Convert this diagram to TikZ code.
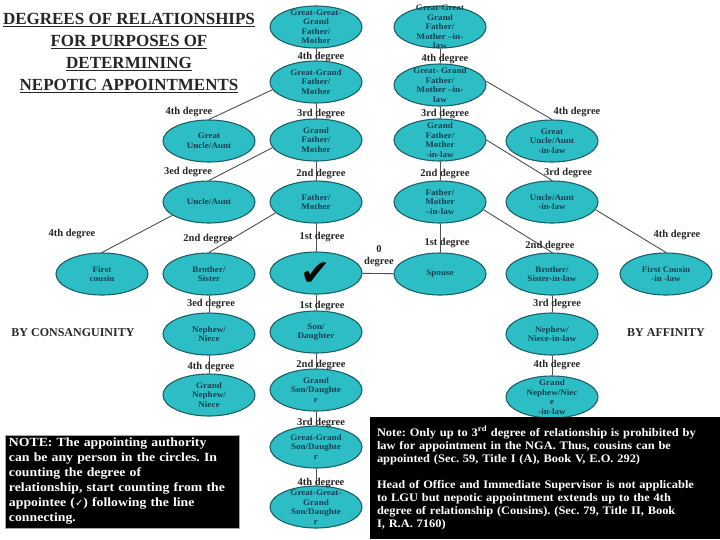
\documentclass[tikz,border=0pt]{standalone}
\usepackage{fontspec}
\setmainfont{Liberation Serif}
\newfontfamily\symfont{DejaVu Sans}
\newfontfamily\wideA[FakeStretch=1.1]{Liberation Serif}
\newfontfamily\wideB[FakeStretch=1.08]{Liberation Serif}
\newfontfamily\wideC[FakeStretch=1.08]{Liberation Serif}
\usetikzlibrary{shapes.geometric}
\definecolor{tealfill}{RGB}{44,190,196}
\definecolor{tealedge}{RGB}{28,96,104}
\definecolor{tealtext}{RGB}{22,64,84}
\definecolor{linegray}{RGB}{80,80,80}
\definecolor{labelgray}{RGB}{40,40,40}
\newcommand{\ptxt}[1]{\makebox[0pt][c]{\raisebox{-2.5pt}{\parbox[c]{90pt}{\centering\wideC\fontsize{8.4}{9.5}\selectfont\bfseries #1}}}}
\frenchspacing
\begin{document}
\begin{tikzpicture}[x=1pt,y=-1pt,
  pers/.style={ellipse, draw=tealedge, line width=1.1pt, fill=tealfill,
    minimum width=92pt, minimum height=42pt, inner sep=0pt,
    text height=0pt, text depth=0pt, text=tealtext},
  deg/.style={font=\fontsize{10.5}{12}\selectfont\bfseries, text=labelgray, inner sep=0pt},
  conn/.style={draw=linegray, line width=0.9pt},
  side/.style={font=\fontsize{12}{14}\selectfont\bfseries, text=labelgray, inner sep=0pt},
  notebox/.style={fill=black, draw=gray!70, line width=0.8pt, text=white, align=left, inner sep=0pt}]
\fill[white] (0,0) rectangle (720,539);
\useasboundingbox (0,0) rectangle (720,539);

% title
\node[font=\fontsize{17}{22}\selectfont\bfseries, align=center, text=black!85, inner sep=0pt] (title) at (129,53)
  {\underline{DEGREES OF RELATIONSHIPS}\\\underline{FOR PURPOSES OF}\\\underline{DETERMINING}\\\underline{NEPOTIC APPOINTMENTS}};

% centre column
\node[pers] (GGGF) at (316,27) {\ptxt{Great-Great-\\Grand\\Father/\\Mother}};
\node[pers] (GGF) at (316,82) {\ptxt{Great-Grand\\Father/\\Mother}};
\node[pers] (GF) at (316,140) {\ptxt{Grand\\Father/\\Mother}};
\node[pers] (FM) at (316,202) {\ptxt{Father/\\Mother}};
\node[pers] (ME) at (316,273) {\makebox[0pt][c]{\raisebox{-12pt}{\symfont\fontsize{36}{36}\selectfont\textcolor{black}{✔}}}};
\node[pers] (SON) at (316,332) {\ptxt{Son/\\Daughter}};
\node[pers] (GS) at (316,390) {\ptxt{Grand\\Son/Daughte\\r}};
\node[pers] (GGS) at (316,447) {\ptxt{Great-Grand\\Son/Daughte\\r}};
\node[pers] (GGGS) at (316,507) {\ptxt{Great-Great-\\Grand\\Son/Daughte\\r}};

% consanguinity side
\node[pers] (GU) at (209,141) {\ptxt{Great\\Uncle/Aunt}};
\node[pers] (UA) at (209,202) {\ptxt{Uncle/Aunt}};
\node[pers] (FC) at (102,274) {\ptxt{First\\cousin}};
\node[pers] (BS) at (209,274) {\ptxt{Brother/\\Sister}};
\node[pers] (NN) at (209,334) {\ptxt{Nephew/\\Niece}};
\node[pers] (GNN) at (209,395) {\ptxt{Grand\\Nephew/\\Niece}};

% affinity side
\node[pers] (GGGFL) at (440,27) {\ptxt{Great-Great\\Grand\\Father/\\Mother –in-\\law}};
\node[pers] (GGFL) at (440,85) {\ptxt{Great- Grand\\Father/\\Mother –in-\\law}};
\node[pers] (GFL) at (440,140) {\ptxt{Grand\\Father/\\Mother\\-in-law}};
\node[pers] (FML) at (440,202) {\ptxt{Father/\\Mother\\–in-law}};
\node[pers] (SP) at (440,274) {\ptxt{Spouse}};
\node[pers] (GUAL) at (552,141) {\ptxt{Great\\Uncle/Aunt\\-in-law}};
\node[pers] (UAL) at (552,202) {\ptxt{Uncle/Aunt\\-in-law}};
\node[pers] (BSL) at (552,274) {\ptxt{Brother/\\Sister-in-law}};
\node[pers] (FCL) at (666,274) {\ptxt{First Cousin\\-in -law}};
\node[pers] (NNL) at (552,334) {\ptxt{Nephew/\\Niece-in-law}};
\node[pers] (GNNL) at (552,397) {\ptxt{Grand\\Nephew/Niec\\e\\-in-law}};

% connectors
\foreach \a/\b in {GGGF/GGF,GGF/GF,GF/FM,FM/ME,ME/SON,SON/GS,GS/GGS,GGS/GGGS,
                   BS/NN,NN/GNN,GGGFL/GGFL,GGFL/GFL,GFL/FML,FML/SP,BSL/NNL,NNL/GNNL,ME/SP}
  \draw[conn] (\a) -- (\b);
\draw[conn] (GGF.190) -- (GU.north);
\draw[conn] (GF.190) -- (UA.north);
\draw[conn] (UA.200) -- (FC.north);
\draw[conn] (FM.195) -- (BS.north);
\draw[conn] (GGFL.5) -- (GUAL.north);
\draw[conn] (GFL.0) -- (UAL.north);
\draw[conn] (UAL.350) -- (FCL.north);
\draw[conn] (FML.350) -- (BSL.north);

% degree labels
\node[deg] (d1) at (321,57) {4th degree};
\node[deg] (d2) at (321,114) {3rd degree};
\node[deg] (d3) at (321,174) {2nd degree};
\node[deg] (d4) at (322,237) {1st degree};
\node[deg] (d5) at (322,306) {1st degree};
\node[deg] (d6) at (321,365) {2nd degree};
\node[deg] (d7) at (321,423) {3rd degree};
\node[deg] (d8) at (321,483) {4th degree};
\node[deg] (d9) at (189,112) {4th degree};
\node[deg] (d10) at (188,172) {3ed degree};
\node[deg] (d11) at (72,234) {4th degree};
\node[deg] (d12) at (208,239) {2nd degree};
\node[deg] (d13) at (211,304) {3ed degree};
\node[deg] (d14) at (211,367) {4th degree};
\node[deg] (d15) at (445,59) {4th degree};
\node[deg] (d16) at (445,114) {3rd degree};
\node[deg] (d17) at (445,174) {2nd degree};
\node[deg] (d18) at (447,243) {1st degree};
\node[deg] (d19) at (577,112) {4th degree};
\node[deg] (d20) at (568,173) {3rd degree};
\node[deg] (d21) at (550,246) {2nd degree};
\node[deg] (d22) at (557,304) {3rd degree};
\node[deg] (d23) at (557,365) {4th degree};
\node[deg] (d24) at (677,235) {4th degree};
\node[deg, align=center] (d0) at (379,256) {0\\degree};

\node[side] (cons) at (73,333) {BY CONSANGUINITY};
\node[side] (aff) at (666,333) {BY AFFINITY};

% notes
\node[notebox, minimum width=234pt, minimum height=93pt, text width=226pt,
      font=\wideA\fontsize{12.5}{15}\selectfont\bfseries] (note1) at (122,481.5)
  {NOTE: The appointing authority\\can be any person in the circles. In\\counting the degree of\\relationship, start counting from the\\appointee ({\symfont\fontsize{10}{12}\selectfont ✓}) following the line\\connecting.};
\node[notebox, draw=none, minimum width=350pt, minimum height=122pt, text width=336pt,
      font=\wideB\fontsize{11.5}{13}\selectfont\bfseries] (note2) at (545,478)
  {Note: Only up to 3\textsuperscript{rd} degree of relationship is prohibited by\\law for appointment in the NGA. Thus, cousins can be\\appointed (Sec. 59, Title I (A), Book V, E.O. 292)\\[13pt]Head of Office and Immediate Supervisor is not applicable\\to LGU but nepotic appointment extends up to the 4th\\degree of relationship (Cousins). (Sec. 79, Title II, Book\\I, R.A. 7160)};
\end{tikzpicture}
\end{document}
